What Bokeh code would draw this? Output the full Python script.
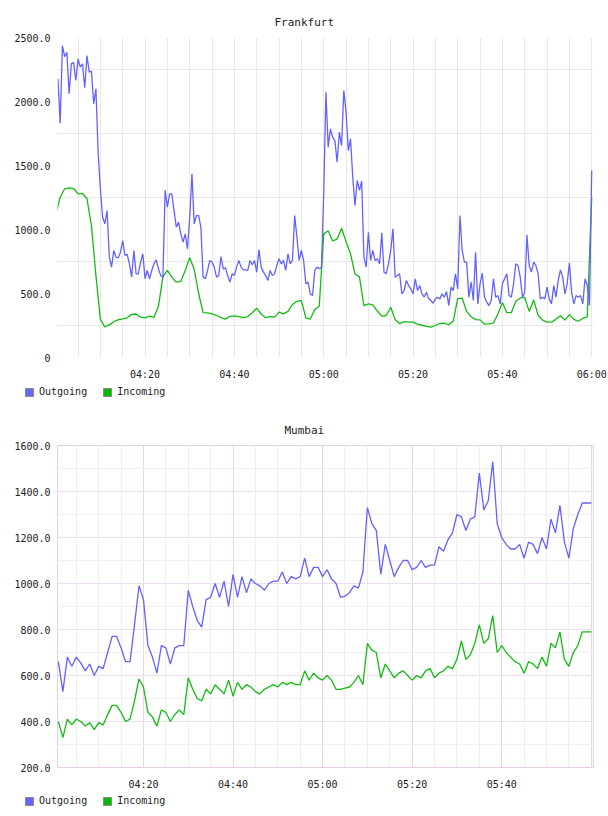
from bokeh.plotting import figure
from bokeh.models import FixedTicker, Grid, Legend, LegendItem
from bokeh.layouts import column, row
from bokeh.embed import file_html
from bokeh.resources import INLINE

# ---------------- data ----------------
# x values are minutes after 04:00
X_TICKS = [20, 40, 60, 80, 100, 120]
X_LABELS = ["04:20", "04:40", "05:00", "05:20", "05:40", "06:00"]

FRA_Y_TICKS = [0, 500, 1000, 1500, 2000, 2500]
FRA_Y_LABELS = ["0", "500.0", "1000.0", "1500.0", "2000.0", "2500.0"]
MUM_Y_TICKS = [200, 400, 600, 800, 1000, 1200, 1400, 1600]
MUM_Y_LABELS = ["200.0", "400.0", "600.0", "800.0", "1000.0", "1200.0", "1400.0", "1600.0"]

SERIES = ["Outgoing", "Incoming"]

# Frankfurt outgoing: samples every 30 s from 04:00:30
FRA_OUT_START = 0.5
FRA_OUT_STEP = 0.5
FRA_OUT = [
    2177, 1831, 2437, 2350, 2385, 2060, 2294, 2307, 2164, 2333,
    2268, 2294, 2107, 2359, 2229, 2237, 1982, 2099, 1600, 1318,
    1096, 1044, 1148, 784, 706, 836, 784, 779, 823, 914,
    797, 805, 732, 628, 836, 654, 654, 745, 810, 615,
    680, 615, 680, 732, 763, 693, 641, 628, 1305, 1174,
    1279, 1279, 1148, 1018, 1057, 966, 901, 966, 849, 1096,
    1435, 1044, 1109, 1109, 1018, 628, 615, 680, 758, 745,
    706, 628, 641, 789, 693, 700, 641, 589, 654, 641,
    706, 758, 706, 685, 685, 680, 758, 725, 758, 667,
    844, 706, 667, 641, 602, 680, 641, 654, 719, 771,
    732, 758, 680, 810, 732, 758, 1109, 940, 758, 836,
    758, 576, 589, 497, 484, 680, 706, 693, 706, 1279,
    2073, 1643, 1786, 1721, 1695, 1526, 1760, 1656, 2086, 1917,
    1617, 1708, 1409, 1187, 1383, 1305, 1378, 784, 706, 979,
    758, 836, 758, 771, 732, 974, 667, 654, 732, 836,
    1005, 628, 641, 654, 497, 523, 602, 563, 536, 497,
    615, 523, 563, 497, 471, 510, 458, 445, 424, 458,
    471, 458, 497, 471, 515, 406, 549, 523, 654, 536,
    1109, 836, 745, 745, 471, 589, 445, 823, 419, 576,
    659, 471, 432, 406, 445, 615, 471, 484, 419, 576,
    615, 654, 484, 471, 576, 732, 719, 628, 471, 510,
    958, 719, 667, 745, 719, 654, 458, 471, 458, 549,
    458, 419, 562, 471, 602, 685, 628, 497, 576, 740,
    510, 419, 484, 471, 484, 419, 615, 562, 406, 1461,
]

# Frankfurt incoming: samples every minute from 04:00
FRA_IN_START = 0
FRA_IN_STEP = 1
FRA_IN = [
    1120, 1250, 1318, 1325, 1320, 1279, 1282, 1240, 1030, 640,
    300, 238, 255, 280, 295, 302, 310, 337, 340, 315,
    310, 323, 314, 400, 630, 680, 628, 589, 595, 680,
    780, 690, 500, 350, 348, 340, 330, 312, 300, 322,
    326, 319, 311, 320, 350, 385, 340, 311, 320, 315,
    355, 341, 360, 414, 440, 445, 310, 300, 375, 400,
    966, 990, 911, 925, 1010, 905, 810, 654, 630, 406,
    419, 412, 363, 323, 328, 393, 295, 265, 280, 276,
    276, 260, 252, 244, 238, 250, 266, 268, 256, 285,
    460, 464, 360, 318, 296, 294, 260, 262, 270, 340,
    430, 350, 350, 440, 465, 470, 360, 450, 330, 292,
    277, 276, 300, 326, 292, 335, 298, 283, 305, 318,
    1253,
]

# Mumbai: samples every minute from 04:01
MUM_START = 1
MUM_STEP = 1
MUM_OUT = [
    660, 530, 680, 640, 680, 655, 620, 650, 600, 640,
    630, 700, 770, 770, 720, 660, 660, 820, 990, 930,
    730, 680, 610, 730, 720, 650, 720, 730, 730, 970,
    900, 840, 810, 930, 940, 1000, 940, 1010, 900, 1040,
    940, 1030, 960, 1020, 1000, 990, 970, 1000, 1010, 1010,
    1050, 1000, 1030, 1020, 1030, 1110, 1030, 1070, 1070, 1030,
    1060, 1020, 1000, 940, 945, 960, 990, 980, 1050, 1330,
    1260, 1230, 1040, 1170, 1100, 1030, 1070, 1100, 1100, 1060,
    1070, 1100, 1070, 1080, 1080, 1160, 1140, 1190, 1220, 1300,
    1290, 1230, 1280, 1290, 1480, 1320, 1360, 1530, 1260, 1200,
    1170, 1150, 1150, 1170, 1110, 1180, 1170, 1130, 1200, 1150,
    1280, 1220, 1340, 1180, 1110, 1240, 1300, 1350, 1350, 1350,
]
MUM_IN = [
    400, 330, 410, 385, 410, 400, 380, 395, 365, 395,
    385, 430, 470, 470, 440, 400, 410, 490, 585, 550,
    440, 420, 380, 450, 440, 400, 430, 450, 430, 590,
    540, 500, 490, 540, 520, 560, 540, 520, 580, 510,
    570, 540, 560, 550, 530, 520, 540, 550, 560, 550,
    570, 560, 570, 560, 560, 620, 580, 610, 590, 580,
    600, 580, 540, 540, 545, 550, 570, 600, 560, 740,
    710, 700, 590, 650, 620, 590, 610, 620, 600, 580,
    600, 590, 620, 630, 590, 610, 620, 640, 630, 670,
    750, 670, 690, 740, 820, 740, 760, 860, 700, 730,
    700, 680, 660, 650, 610, 660, 650, 630, 680, 640,
    740, 720, 790, 670, 640, 700, 730, 790, 790, 790,
]

BLUE = "#6262ff"
GREEN = "#13bb13"
SWATCH = ["#6666ff", "#00bb00"]
FONT = "DejaVu Sans Mono"


def times(start, step, n):
    return [start + step * i for i in range(n)]


def make_fig(title, title_offset, y0, y1, ytick, ylab, xtick, xlab, xr, height, pink):
    p = figure(width=608, height=height, x_range=xr, y_range=(y0, y1),
               output_backend="svg", toolbar_location=None,
               min_border_left=57, min_border_right=15, min_border_top=37,
               min_border_bottom=26)
    p.title.text = title
    p.title.text_font = FONT
    p.title.text_font_size = "11px"
    p.title.text_font_style = "normal"
    p.title.text_color = "#222222"
    p.title.align = "left"
    p.title.offset = title_offset
    p.title.standoff = 18
    p.background_fill_color = "white"
    p.border_fill_color = "white"
    p.outline_line_color = "#e6cde6" if pink else None

    for ax in (p.xaxis[0], p.yaxis[0]):
        ax.axis_line_color = None
        ax.major_tick_line_color = None
        ax.minor_tick_line_color = None
        ax.major_tick_out = 0
        ax.major_tick_in = 0
        ax.major_label_text_font = FONT
        ax.major_label_text_font_size = "10px"
        ax.major_label_text_color = "#222222"
    p.xaxis[0].ticker = FixedTicker(ticks=xtick)
    p.xaxis[0].major_label_overrides = dict(zip(xtick, xlab))
    p.xaxis[0].major_label_standoff = 11
    p.yaxis[0].ticker = FixedTicker(ticks=ytick)
    p.yaxis[0].major_label_overrides = dict(zip(ytick, ylab))
    p.yaxis[0].major_label_standoff = 7
    return p


def legend_strip(height, y):
    # a strip below each chart that only carries the legend
    q = figure(width=608, height=height, x_range=(0, 1), y_range=(0, 1),
               x_axis_type=None, y_axis_type=None,
               min_border=0, min_border_left=0, min_border_right=0,
               min_border_top=0, min_border_bottom=0,
               output_backend="svg", toolbar_location=None)
    q.outline_line_color = None
    q.grid.visible = False
    swatches = []
    for c in SWATCH:
        # swatch renderer kept outside the visible range; only its legend glyph shows
        swatches.append(q.quad(left=[-3], right=[-2], top=[-2], bottom=[-3],
                               fill_color=c, line_color="#8a8a8a"))
    lg = Legend(items=[LegendItem(label=s, renderers=[r]) for s, r in zip(SERIES, swatches)],
                orientation="horizontal", location=(24, y),
                glyph_width=10, glyph_height=10, label_standoff=5, spacing=15,
                padding=0, margin=0, border_line_color=None, background_fill_alpha=0,
                label_text_font=FONT, label_text_font_size="10px", label_height=10,
                label_text_color="#222222")
    q.add_layout(lg, "center")
    return q


# ---------------- Frankfurt ----------------
p1 = make_fig("Frankfurt", 217, 0, 2500, FRA_Y_TICKS, FRA_Y_LABELS, X_TICKS, X_LABELS,
              (0.4, 120.4), 383, False)
p1.ygrid.ticker = FixedTicker(ticks=[250, 750, 1250, 1750, 2250])
p1.ygrid.grid_line_color = "#e8e8e8"
p1.xgrid.ticker = FixedTicker(ticks=list(range(5, 121, 5)))
p1.xgrid.grid_line_color = "#e8e8e8"

p1.line(times(FRA_IN_START, FRA_IN_STEP, len(FRA_IN)), FRA_IN, line_color=GREEN, line_width=1.3)
p1.line(times(FRA_OUT_START, FRA_OUT_STEP, len(FRA_OUT)), FRA_OUT, line_color=BLUE, line_width=1.3)

# ---------------- Mumbai ----------------
p2 = make_fig("Mumbai", 227, 200, 1600, MUM_Y_TICKS, MUM_Y_LABELS, X_TICKS[:-1], X_LABELS[:-1],
              (0.8, 120.5), 385, True)
p2.ygrid.ticker = FixedTicker(ticks=MUM_Y_TICKS)
p2.ygrid.grid_line_color = "#f0dcf0"
p2.xgrid.ticker = FixedTicker(ticks=[20, 40, 60, 80, 100, 120])
p2.xgrid.grid_line_color = "#ead2ea"
p2.add_layout(Grid(dimension=1, ticker=FixedTicker(ticks=[300, 500, 700, 900, 1100, 1300, 1500]),
                   grid_line_color="#eeeeee"))
p2.add_layout(Grid(dimension=0, ticker=FixedTicker(ticks=[t for t in range(5, 121, 5) if t % 20]),
                   grid_line_color="#eeeeee"))

mt = times(MUM_START, MUM_STEP, len(MUM_OUT))
p2.line(mt, MUM_IN, line_color=GREEN, line_width=1.3)
p2.line(mt, MUM_OUT, line_color=BLUE, line_width=1.3)

layout = column(p1, row(legend_strip(25, 11)), p2, row(legend_strip(23, 10)), spacing=0)
open("out.html", "w").write(file_html(layout, INLINE))
